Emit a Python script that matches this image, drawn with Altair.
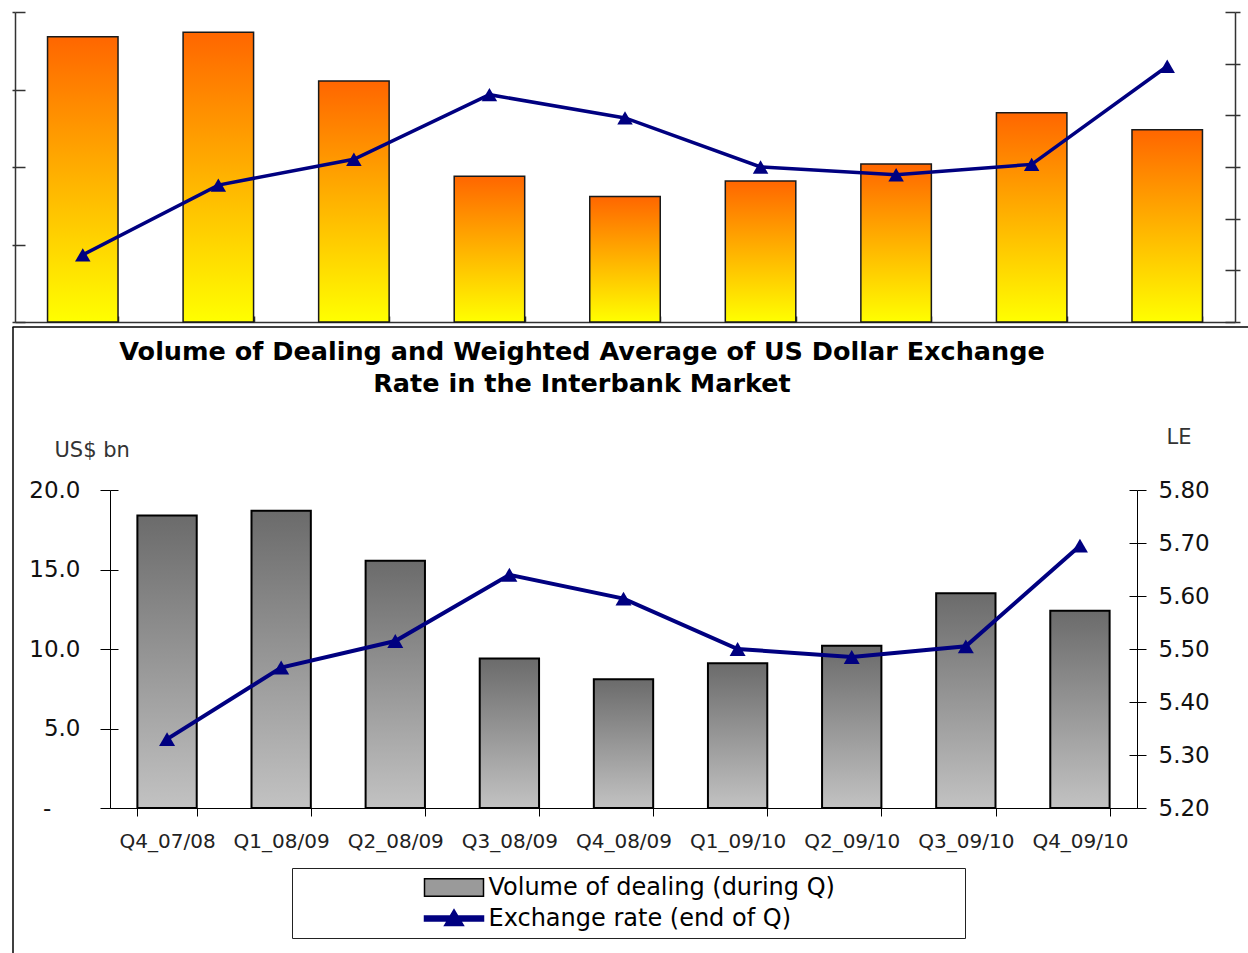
import altair as alt
import pandas as pd

# ---------------- data ----------------
categories = ["Q4_07/08", "Q1_08/09", "Q2_08/09", "Q3_08/09", "Q4_08/09",
              "Q1_09/10", "Q2_09/10", "Q3_09/10", "Q4_09/10"]
volume = [18.4, 18.7, 15.55, 9.4, 8.1, 9.1, 10.2, 13.5, 12.4]          # US$ bn
rate = [5.33, 5.465, 5.515, 5.64, 5.595, 5.50, 5.485, 5.505, 5.695]   # LE per US$
vol_ticks = [0, 5, 10, 15, 20]
rate_ticks = [5.2, 5.3, 5.4, 5.5, 5.6, 5.7, 5.8]
series = ["Volume of dealing (during Q)", "Exchange rate (end of Q)"]
title_lines = ["Volume of Dealing and Weighted Average of US Dollar Exchange",
               "Rate in the Interbank Market"]

# ---------------- layout / style ----------------
W, H = 1248, 953
FONT = "DejaVu Sans"
NAVY = "#000080"
NBSP = "\u00a0"
ZWSP = "\u200b"   # keeps trailing no-break spaces from being trimmed

TOP_X, TOP_Y = [15, 1235], [322, 12]     # upper (cropped) panel
BOT_X, BOT_Y = [110, 1137], [808, 490]   # lower panel

df = pd.DataFrame({"quarter": categories, "vol": volume, "rate": rate})
leg_df = pd.DataFrame({"series": series})


def band(rng):
    return alt.Scale(domain=categories, range=rng, paddingInner=0.48, paddingOuter=0.24)


def lin(domain, rng):
    return alt.Scale(domain=domain, range=rng, nice=False, zero=False)


def gradient(top, bottom):
    return {"gradient": "linear", "x1": 0, "y1": 0, "x2": 0, "y2": 1,
            "stops": [{"offset": 0, "color": top}, {"offset": 1, "color": bottom}]}


def yoff(orient, xpos):
    return -xpos if orient == "left" else xpos - W


def inner_ticks(field, domain, rng, values, orient, xpos, size, color, width):
    return alt.Chart(df).mark_text(text="").encode(
        y=alt.Y(f"{field}:Q", scale=lin(domain, rng),
                axis=alt.Axis(orient=orient, offset=yoff(orient, xpos), values=values,
                              tickSize=size, tickColor=color, tickWidth=width,
                              labels=False, domain=False, grid=False, title=None)))


# ---------------- upper panel ----------------
GREY = "#333333"
top_bars = alt.Chart(df).mark_bar(
    fill=gradient("#ff6600", "#ffff00"), stroke="#1a1a1a", strokeWidth=1.5
).encode(
    x=alt.X("quarter:N", scale=band(TOP_X),
            axis=alt.Axis(orient="top", offset=-TOP_Y[0], tickBand="extent", tickSize=6,
                          tickColor=GREY, tickWidth=1.5, domainColor=GREY, domainWidth=1.5,
                          labels=False, grid=False, title=None)),
    y=alt.Y("vol:Q", scale=lin([0, 20], TOP_Y),
            axis=alt.Axis(orient="left", offset=yoff("left", TOP_X[0]), values=vol_ticks,
                          tickSize=3, tickColor=GREY, tickWidth=1.5, domainColor=GREY,
                          domainWidth=1.5, labels=False, grid=False, title=None)),
)

top_line = alt.Chart(df).mark_line(
    color=NAVY, strokeWidth=3.5,
    point=alt.OverlayMarkDef(shape="triangle-up", size=240, filled=True, color=NAVY, opacity=1),
).encode(
    x=alt.X("quarter:N", scale=band(TOP_X), axis=None),
    y=alt.Y("rate:Q", scale=lin([5.2, 5.8], TOP_Y),
            axis=alt.Axis(orient="right", offset=yoff("right", TOP_X[1]), values=rate_ticks,
                          tickSize=5, tickColor=GREY, tickWidth=1.5, domainColor=GREY,
                          domainWidth=1.5, labels=False, grid=False, title=None)),
)

top_in_left = inner_ticks("vol", [0, 20], TOP_Y, vol_ticks, "right", TOP_X[0], 10, GREY, 1.5)
top_in_right = inner_ticks("rate", [5.2, 5.8], TOP_Y, rate_ticks, "left", TOP_X[1], 10, GREY, 1.5)

# ---------------- lower panel ----------------
bot_bars = alt.Chart(df).mark_bar(
    fill=gradient("#6b6b6b", "#c2c2c2"), stroke="black", strokeWidth=2
).encode(
    x=alt.X("quarter:N", scale=band(BOT_X),
            axis=alt.Axis(orient="bottom", offset=BOT_Y[0] - H, tickBand="extent", tickSize=8,
                          tickColor="black", domainColor="black", labelAngle=0,
                          labelFont=FONT, labelFontSize=20, labelColor="#222222",
                          labelPadding=15, labelOverlap=False, grid=False, title=None)),
    y=alt.Y("vol:Q", scale=lin([0, 20], BOT_Y),
            axis=alt.Axis(orient="left", offset=yoff("left", BOT_X[0]), values=vol_ticks,
                          tickSize=10, tickColor="black", domainColor="black",
                          labelExpr="datum.value == 0 ? '-" + NBSP * 4 + ZWSP
                                    + "' : format(datum.value, '.1f')",
                          labelFont=FONT, labelFontSize=23, labelColor="#111111",
                          labelPadding=20, grid=False,
                          title="US$ bn", titleX=-56, titleY=456, titleAngle=0,
                          titleAlign="left", titleBaseline="alphabetic", titleFont=FONT,
                          titleFontSize=21, titleFontWeight="normal", titleColor="#333333")),
)

bot_line = alt.Chart(df).mark_line(
    color=NAVY, strokeWidth=4,
    point=alt.OverlayMarkDef(shape="triangle-up", size=256, filled=True, color=NAVY, opacity=1),
).encode(
    x=alt.X("quarter:N", scale=band(BOT_X), axis=None),
    y=alt.Y("rate:Q", scale=lin([5.2, 5.8], BOT_Y),
            axis=alt.Axis(orient="right", offset=yoff("right", BOT_X[1]), values=rate_ticks,
                          tickSize=9, tickColor="black", domainColor="black", format=".2f",
                          labelFont=FONT, labelFontSize=23, labelColor="#111111",
                          labelPadding=12, grid=False,
                          title="LE", titleX=29, titleY=443, titleAngle=0,
                          titleAlign="left", titleBaseline="alphabetic", titleFont=FONT,
                          titleFontSize=21, titleFontWeight="normal", titleColor="#333333")),
)

bot_in_left = inner_ticks("vol", [0, 20], BOT_Y, vol_ticks, "right", BOT_X[0], 8, "black", 1)
bot_in_right = inner_ticks("rate", [5.2, 5.8], BOT_Y, rate_ticks, "left", BOT_X[1], 8, "black", 1)

# frame of the lower chart (left and top border, drawn as axis domains)
frame = alt.Chart(leg_df).mark_text(text="").encode(
    x=alt.X("series:N", scale=alt.Scale(domain=series, range=[12, 1400]),
            axis=alt.Axis(orient="top", offset=-326.5, ticks=False, labels=False, grid=False,
                          title=None, domainColor="black", domainWidth=1.5)),
    y=alt.Y("series:N", scale=alt.Scale(domain=series, range=[326.5, 1100]),
            axis=alt.Axis(orient="left", offset=-12.5, ticks=False, labels=False, grid=False,
                          title=None, domainColor="black", domainWidth=1.5)),
)

# ---------------- legend ----------------
bar_sym = "M-1,-0.3H1V0.3H-1Z"
line_sym = "M-1,-0.085H1V0.085H-1Z M-0.32,0.24L0,-0.3L0.32,0.24Z"
leg = alt.Legend(orient="none", legendX=292, legendY=868, title=None, padding=7.5,
                 strokeColor="#222222", fillColor="white", symbolSize=3481,
                 symbolStrokeWidth=1.5, symbolOffset=124, labelOffset=4,
                 labelFont=FONT, labelFontSize=24, labelColor="black", labelLimit=1000,
                 rowPadding=7, clipHeight=24, symbolOpacity=1,
                 labelExpr="datum.label + '" + NBSP * 16 + ZWSP + "'")

legend_layer = alt.Chart(leg_df).mark_point(filled=True).encode(
    x=alt.X("series:N", scale=alt.Scale(domain=series, range=[3000, 3100]), axis=None),
    y=alt.Y("series:N", scale=alt.Scale(domain=series, range=[3000, 3100]), axis=None),
    shape=alt.Shape("series:N", scale=alt.Scale(domain=series, range=[bar_sym, line_sym]), legend=leg),
    fill=alt.Fill("series:N", scale=alt.Scale(domain=series, range=["#9a9a9a", NAVY]), legend=leg),
    stroke=alt.Stroke("series:N", scale=alt.Scale(domain=series, range=["#000000", NAVY]), legend=leg),
)

chart = alt.layer(
    frame, top_in_left, top_in_right, top_bars, top_line,
    bot_in_left, bot_in_right, bot_bars, bot_line, legend_layer,
).resolve_scale(
    x="independent", y="independent"
).resolve_axis(
    x="independent", y="independent"
).properties(
    width=W, height=H, padding=0, background="white",
    autosize=alt.AutoSizeParams(type="none"),
    title=alt.TitleParams(text=title_lines, anchor="middle", frame="group", orient="top",
                          offset=-417, dx=-42, baseline="alphabetic", font=FONT,
                          fontSize=25.5, fontWeight="bold", color="black", lineHeight=32),
).configure_view(stroke="transparent")

chart.save("out.html", embed_options={"renderer": "svg", "actions": False})
